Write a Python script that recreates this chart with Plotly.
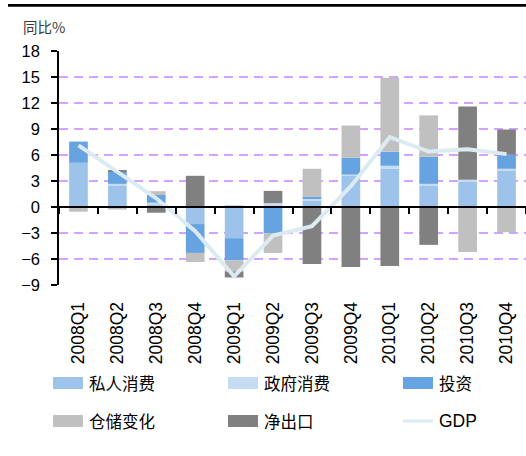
import plotly.graph_objects as go

quarters = ["2008Q1", "2008Q2", "2008Q3", "2008Q4", "2009Q1", "2009Q2",
            "2009Q3", "2009Q4", "2010Q1", "2010Q2", "2010Q3", "2010Q4"]
private_consumption = [5.1, 2.47, 0.3, -1.97, -3.6, 0.1, 0.7, 3.6, 4.41, 2.44, 2.9, 4.18]
government_consumption = [0.0, 0.2, 0.2, 0.0, 0.12, 0.35, 0.23, 0.15, 0.35, 0.23, 0.23, 0.23]
investment = [2.45, 1.37, 0.89, -3.33, -2.56, -3.02, 0.23, 1.94, 1.63, 3.14, 0.0, 1.63]
inventory_change = [-0.54, -0.3, 0.43, -1.04, -1.27, -2.28, 3.25, 3.71, 8.51, 4.76, -5.19, -2.9]
net_exports = [0.0, 0.23, -0.66, 3.6, -0.7, 1.41, -6.58, -6.93, -6.81, -4.37, 8.47, 2.9]
gdp = [7.1, 4.0, 1.0, -2.8, -8.0, -3.3, -2.2, 2.4, 8.05, 6.4, 6.65, 6.1]

series_names = ["私人消费", "政府消费", "投资", "仓储变化", "净出口", "GDP"]
series_colors = ["#9dc3eb", "#c6dcf3", "#66a3e0", "#c0c0c0", "#808080", "#dcebf2"]
y_ticks = [-9, -6, -3, 0, 3, 6, 9, 12, 15, 18]
y_title = "同比%"

W, H = 526, 456
L, R, T, B = 59, 526, 51, 285


def px_x(x):
    return (x - L) / (R - L)


def px_y(y):
    return (B - y) / (B - T)


fig = go.Figure()
bar_values = [private_consumption, government_consumption, investment,
              inventory_change, net_exports]
for name, vals, col in zip(series_names[:5], bar_values, series_colors[:5]):
    fig.add_trace(go.Bar(x=quarters, y=vals, name=name, marker_color=col,
                         marker_line_width=0, showlegend=False))

fig.add_trace(go.Scatter(x=quarters, y=gdp, name="GDP", mode="lines",
                         line=dict(color=series_colors[5], width=4),
                         xaxis="x2", showlegend=False))

fig.update_layout(
    width=W, height=H,
    margin=dict(l=L, r=W - R, t=T, b=H - B, pad=0),
    paper_bgcolor="white", plot_bgcolor="white",
    barmode="relative", bargap=0.52,
    xaxis=dict(type="category", categoryorder="array", categoryarray=quarters,
               range=[-0.5, 11.5], showline=False, showgrid=False, zeroline=False,
               ticks="outside", ticklen=9, tickcolor="rgba(0,0,0,0)",
               tickangle=-90,
               tickfont=dict(family="Liberation Sans, Arial", size=17.5, color="black")),
    xaxis2=dict(type="category", categoryorder="array", categoryarray=quarters,
                range=[-0.5, 11.5], overlaying="x", anchor="free",
                position=(0 - y_ticks[0]) / (y_ticks[-1] - y_ticks[0]),
                showline=True, linecolor="black", linewidth=1.5,
                ticks="outside", ticklen=6, tickwidth=1.5, tickcolor="black",
                tickson="boundaries", showticklabels=False, showgrid=False,
                zeroline=False),
    yaxis=dict(range=[y_ticks[0], y_ticks[-1]], tickvals=y_ticks,
               showline=True, linecolor="black", linewidth=1.5,
               ticks="outside", ticklen=6, tickwidth=1.5, tickcolor="black",
               showgrid=True, gridcolor="#d2a3ff", gridwidth=2, griddash="9px,6px",
               zeroline=False, ticklabelstandoff=8,
               tickfont=dict(family="Liberation Sans, Arial", size=16.5, color="black")),
    font=dict(family="Liberation Sans, Arial"),
)

# y-axis unit label
fig.add_annotation(text=y_title, xref="paper", yref="paper",
                   x=px_x(21), y=px_y(27), xanchor="left", yanchor="middle",
                   showarrow=False,
                   font=dict(family="Noto Sans CJK SC", size=14.5, color="#3a3a3a"))

# top rule
fig.add_shape(type="line", xref="paper", yref="paper",
              x0=px_x(8), x1=px_x(526), y0=px_y(5.3), y1=px_y(5.3),
              line=dict(color="black", width=2.7))

# custom legend (3 columns x 2 rows)
col_x = [53, 228, 403]
row_y = [383, 421]
for i, (name, col) in enumerate(zip(series_names, series_colors)):
    cx = col_x[i % 3]
    cy = row_y[i // 3]
    if name == "GDP":
        fig.add_shape(type="line", xref="paper", yref="paper",
                      x0=px_x(cx), x1=px_x(cx + 30), y0=px_y(cy), y1=px_y(cy),
                      line=dict(color=col, width=3))
        fnt = dict(family="Liberation Sans, Arial", size=17.5, color="black")
    else:
        fig.add_shape(type="rect", xref="paper", yref="paper",
                      x0=px_x(cx), x1=px_x(cx + 30), y0=px_y(cy - 6), y1=px_y(cy + 6),
                      fillcolor=col, line=dict(width=0))
        fnt = dict(family="Noto Sans CJK SC", size=16.5, color="black")
    fig.add_annotation(text=name, xref="paper", yref="paper",
                       x=px_x(cx + 34), y=px_y(cy), xanchor="left", yanchor="middle",
                       showarrow=False, font=fnt)

fig.write_html("out.html", config={"displayModeBar": False},
               post_script="document.body.style.margin='0';")
